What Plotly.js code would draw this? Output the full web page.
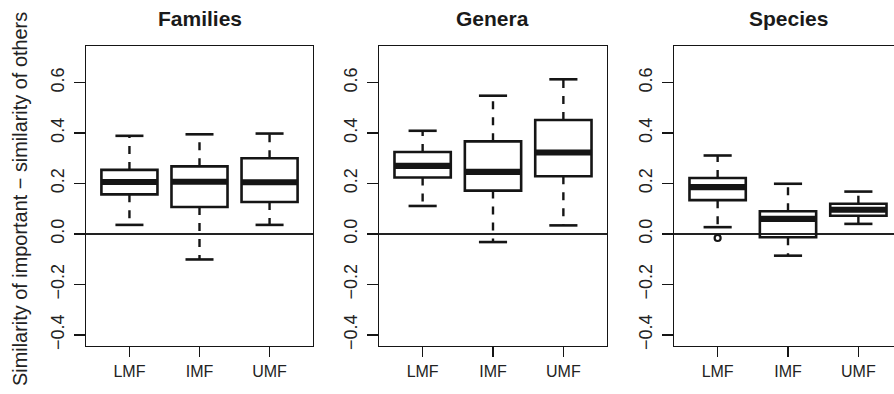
<!DOCTYPE html>
<html>
<head>
<meta charset="utf-8">
<script src="https://cdn.plot.ly/plotly-3.0.1.min.js"></script>
<style>
html,body{margin:0;padding:0;overflow:hidden;background:#fff;}
#chart{width:910px;height:394px;}
</style>
</head>
<body>
<div id="chart"></div>
<script>
// ---- data ----
const groups = ["LMF", "IMF", "UMF"];
const groupPos = [1, 2, 3];
const panelTitles = ["Families", "Genera", "Species"];

const famLo  = [0.036, -0.101, 0.036];
const famQ1  = [0.157, 0.107, 0.127];
const famMed = [0.206, 0.207, 0.205];
const famQ3  = [0.254, 0.268, 0.300];
const famHi  = [0.389, 0.395, 0.398];

const genLo  = [0.111, -0.032, 0.034];
const genQ1  = [0.224, 0.172, 0.229];
const genMed = [0.270, 0.246, 0.323];
const genQ3  = [0.325, 0.367, 0.452];
const genHi  = [0.409, 0.548, 0.613];

const spLo  = [0.027, -0.086, 0.040];
const spQ1  = [0.134, -0.013, 0.072];
const spMed = [0.186, 0.060, 0.096];
const spQ3  = [0.222, 0.090, 0.120];
const spHi  = [0.311, 0.199, 0.168];

const spOutX = [1];
const spOutY = [-0.016];

const yTickVals = [-0.4, -0.2, 0.0, 0.2, 0.4, 0.6];
const yTickText = ["\u22120.4", "\u22120.2", "0.0", "0.2", "0.4", "0.6"];
const yTitle = "Similarity of important \u2212 similarity of others";

// ---- build ----
const panels = [
  {lo: famLo, q1: famQ1, med: famMed, q3: famQ3, hi: famHi},
  {lo: genLo, q1: genQ1, med: genMed, q3: genQ3, hi: genHi},
  {lo: spLo,  q1: spQ1,  med: spMed,  q3: spQ3,  hi: spHi}
];

const W = 910, H = 394;
const FONT = "Liberation Sans, Arial, Helvetica, sans-serif";
const INK = "#151515";
const boxW = 0.8, capHalf = 0.2;
const xDomPx = [[86, 313], [379, 607], [674, 902]];
const yDom = [1 - 346 / H, 1 - 46 / H];

const traces = [];
const layout = {
  width: W, height: H,
  margin: {l: 0, r: 0, t: 0, b: 0},
  paper_bgcolor: "#fff", plot_bgcolor: "#fff",
  showlegend: false,
  font: {family: FONT, size: 16, color: INK},
  annotations: []
};

panels.forEach((p, i) => {
  const sx = i === 0 ? "" : String(i + 1);
  const xa = "x" + sx, ya = "y" + sx;

  // box bodies (whiskers drawn separately as dashed lines)
  traces.push({
    type: "box", xaxis: xa, yaxis: ya,
    x: groupPos, q1: p.q1, median: p.med, q3: p.q3,
    lowerfence: p.q1, upperfence: p.q3,
    width: boxW, whiskerwidth: 0,
    fillcolor: "rgba(255,255,255,0)",
    line: {color: INK, width: 2.6},
    hoverinfo: "skip", boxpoints: false
  });

  // dashed whiskers
  const wx = [], wy = [];
  groupPos.forEach((g, k) => {
    wx.push(g, g, null, g, g, null);
    wy.push(p.q3[k], p.hi[k], null, p.q1[k], p.lo[k], null);
  });
  traces.push({
    type: "scatter", mode: "lines", xaxis: xa, yaxis: ya,
    x: wx, y: wy, line: {color: INK, width: 2.4, dash: "8px,8px"},
    hoverinfo: "skip"
  });

  // staples
  const cx = [], cy = [];
  groupPos.forEach((g, k) => {
    cx.push(g - capHalf, g + capHalf, null, g - capHalf, g + capHalf, null);
    cy.push(p.hi[k], p.hi[k], null, p.lo[k], p.lo[k], null);
  });
  traces.push({
    type: "scatter", mode: "lines", xaxis: xa, yaxis: ya,
    x: cx, y: cy, line: {color: INK, width: 2.6},
    hoverinfo: "skip"
  });

  // thick medians
  const mx = [], my = [];
  groupPos.forEach((g, k) => {
    mx.push(g - boxW / 2, g + boxW / 2, null);
    my.push(p.med[k], p.med[k], null);
  });
  traces.push({
    type: "scatter", mode: "lines", xaxis: xa, yaxis: ya,
    x: mx, y: my, line: {color: INK, width: 6.2},
    hoverinfo: "skip"
  });

  layout["xaxis" + sx] = {
    domain: [xDomPx[i][0] / W, xDomPx[i][1] / W],
    anchor: ya, range: [0.38, 3.62],
    tickvals: groupPos, ticktext: groups,
    ticks: "outside", ticklen: 10, tickwidth: 1.4, tickcolor: INK,
    ticklabelstandoff: 0,
    showline: true, mirror: true, linecolor: INK, linewidth: 1.4,
    showgrid: false, zeroline: false, fixedrange: true,
    tickfont: {family: FONT, size: 16, color: "#222"}
  };
  layout["yaxis" + sx] = {
    domain: yDom, anchor: xa, range: [-0.444, 0.745],
    tickvals: yTickVals, ticktext: yTickText, tickangle: -90,
    ticks: "outside", ticklen: 11, tickwidth: 1.4, tickcolor: INK,
    ticklabelstandoff: 2,
    showline: true, mirror: true, linecolor: INK, linewidth: 1.4,
    showgrid: false, zeroline: true, zerolinecolor: "#222", zerolinewidth: 1.1,
    fixedrange: true,
    tickfont: {family: FONT, size: 18, color: "#222"}
  };

  layout.annotations.push({
    xref: "paper", yref: "paper",
    x: (xDomPx[i][0] + xDomPx[i][1]) / 2 / W, y: 1 - 19 / H,
    xanchor: "center", yanchor: "middle", showarrow: false,
    text: "<b>" + panelTitles[i] + "</b>",
    font: {family: FONT, size: 21, color: "#1a1a1a"}
  });
});

// outlier
traces.push({
  type: "scatter", mode: "markers", xaxis: "x3", yaxis: "y3",
  x: spOutX, y: spOutY,
  marker: {symbol: "circle-open", size: 6, color: INK, line: {width: 2.2, color: INK}},
  hoverinfo: "skip"
});

// y axis title
layout.annotations.push({
  xref: "paper", yref: "paper",
  x: 20 / W, y: 1 - 199 / H,
  xanchor: "center", yanchor: "middle", showarrow: false,
  textangle: -90, text: yTitle,
  font: {family: FONT, size: 19.9, color: "#222"}
});

Plotly.newPlot("chart", traces, layout, {staticPlot: true, displayModeBar: false});
</script>
</body>
</html>
